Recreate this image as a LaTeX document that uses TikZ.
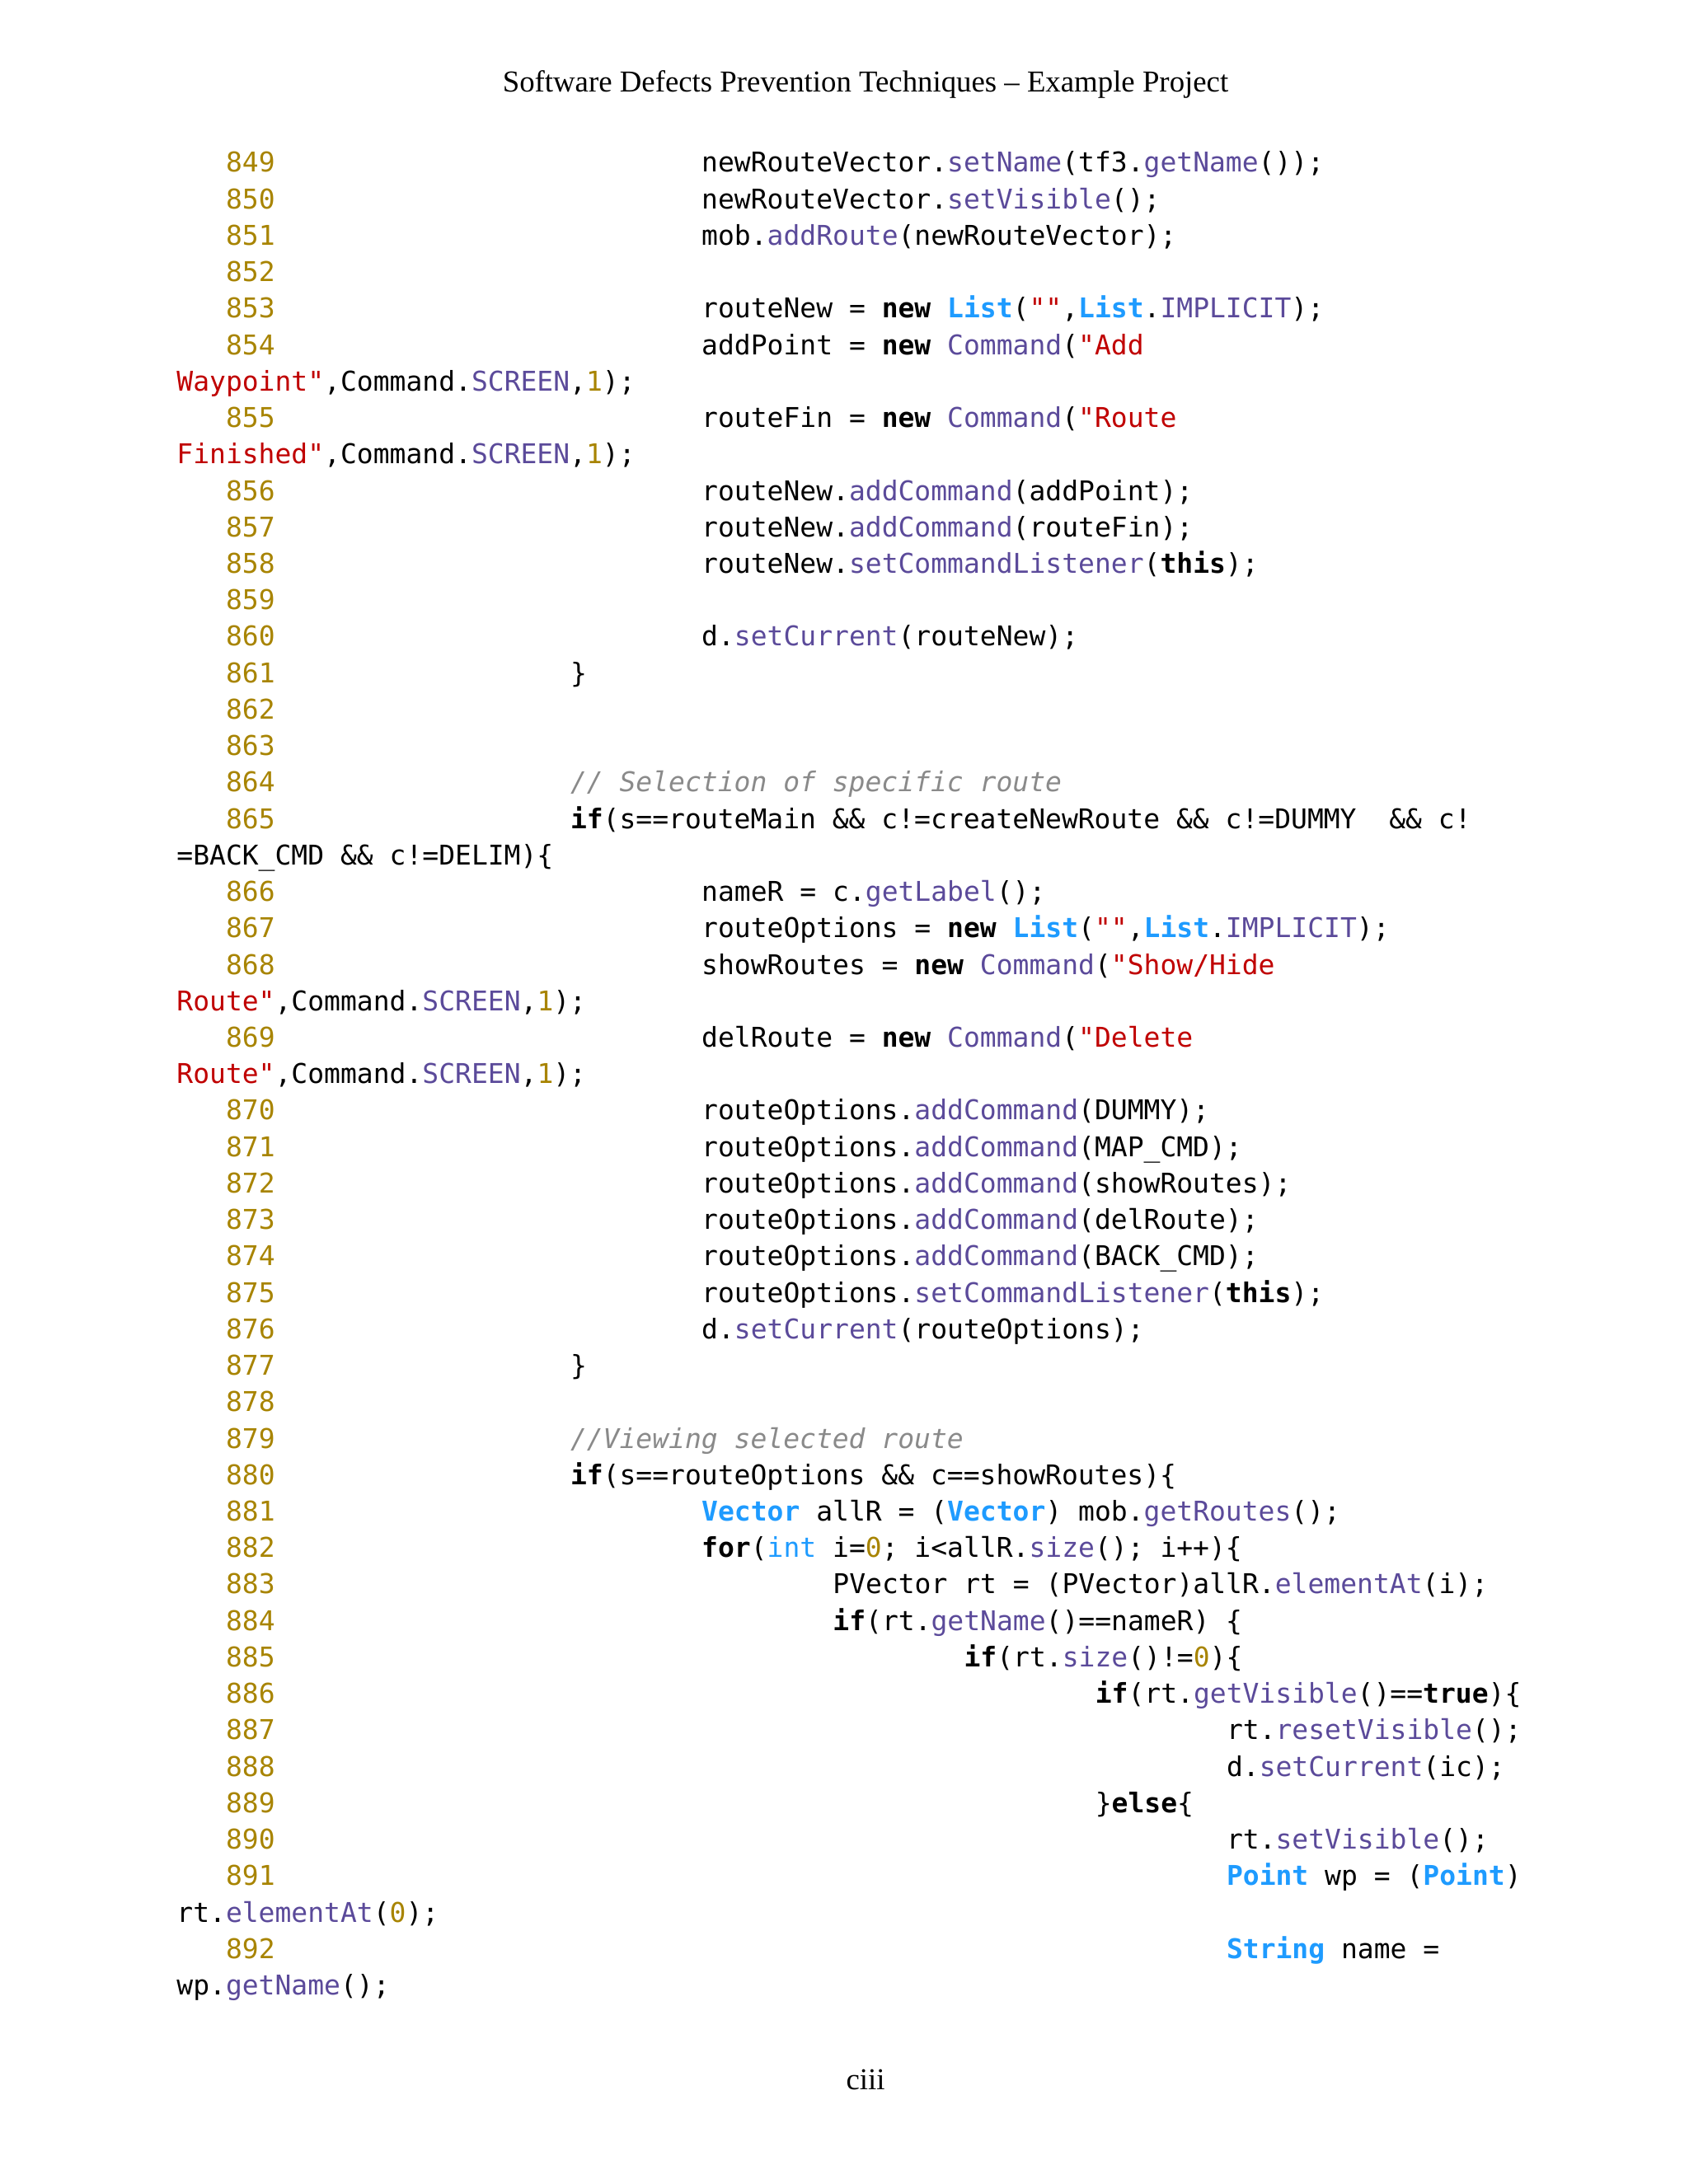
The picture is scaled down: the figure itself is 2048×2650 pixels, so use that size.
\documentclass[tikz,border=0pt]{standalone}
\usepackage{fontspec}
\setmainfont{Liberation Serif}
\setmonofont{DejaVu Sans Mono}
\definecolor{cnum}{HTML}{A88400}
\definecolor{cmt}{HTML}{5B4A9A}
\definecolor{cty}{HTML}{1E9BFF}
\definecolor{cst}{HTML}{C00000}
\definecolor{ccm}{HTML}{8A8A8A}
\newcommand{\kw}[1]{\textbf{#1}}
\newcommand{\ty}[1]{\textcolor{cty}{\textbf{#1}}}
\newcommand{\tyr}[1]{\textcolor{cty}{#1}}
\newcommand{\mt}[1]{\textcolor{cmt}{#1}}
\newcommand{\st}[1]{\textcolor{cst}{#1}}
\newcommand{\nm}[1]{\textcolor{cnum}{#1}}
\newcommand{\cmm}[1]{\textcolor{ccm}{\textit{#1}}}
\tikzset{code/.style={anchor=base west,inner sep=0pt,font=\ttfamily\fontsize{16.5bp}{20bp}\selectfont},
lnum/.style={code,text=cnum}}
\newcommand{\CL}[3]{\node[code] (r#1) at ({214+#2*19.9},{209+#1*44.23}) {#3};}
\newcommand{\NL}[2]{\node[lnum] (n#1) at ({214+3*19.9},{209+#1*44.23}) {#2};}
\begin{document}
\begin{tikzpicture}[x=0.5bp,y=-0.5bp]
\useasboundingbox[fill=white] (0,0) rectangle (2048,2650);
\node[font=\fontsize{18.4bp}{22bp}\selectfont] (hdr) at (1050,102) {Software Defects Prevention Techniques -- Example Project};
\node[font=\fontsize{18.4bp}{22bp}\selectfont] (ftr) at (1050,2523) {ciii};
\NL{0}{849}\CL{0}{32}{newRouteVector.\mt{setName}(tf3.\mt{getName}());}
\NL{1}{850}\CL{1}{32}{newRouteVector.\mt{setVisible}();}
\NL{2}{851}\CL{2}{32}{mob.\mt{addRoute}(newRouteVector);}
\NL{3}{852}
\NL{4}{853}\CL{4}{32}{routeNew = \kw{new} \ty{List}(\st{""},\ty{List}.\mt{IMPLICIT});}
\NL{5}{854}\CL{5}{32}{addPoint = \kw{new} \mt{Command}(\st{"Add}}
\CL{6}{0}{\st{Waypoint"},Command.\mt{SCREEN},\nm{1});}
\NL{7}{855}\CL{7}{32}{routeFin = \kw{new} \mt{Command}(\st{"Route}}
\CL{8}{0}{\st{Finished"},Command.\mt{SCREEN},\nm{1});}
\NL{9}{856}\CL{9}{32}{routeNew.\mt{addCommand}(addPoint);}
\NL{10}{857}\CL{10}{32}{routeNew.\mt{addCommand}(routeFin);}
\NL{11}{858}\CL{11}{32}{routeNew.\mt{setCommandListener}(\kw{this});}
\NL{12}{859}
\NL{13}{860}\CL{13}{32}{d.\mt{setCurrent}(routeNew);}
\NL{14}{861}\CL{14}{24}{\}}
\NL{15}{862}
\NL{16}{863}
\NL{17}{864}\CL{17}{24}{\cmm{// Selection of specific route}}
\NL{18}{865}\CL{18}{24}{\kw{if}(s==routeMain \&\& c!=createNewRoute \&\& c!=DUMMY\ \ \&\& c!}
\CL{19}{0}{=BACK\_CMD \&\& c!=DELIM)\{}
\NL{20}{866}\CL{20}{32}{nameR = c.\mt{getLabel}();}
\NL{21}{867}\CL{21}{32}{routeOptions = \kw{new} \ty{List}(\st{""},\ty{List}.\mt{IMPLICIT});}
\NL{22}{868}\CL{22}{32}{showRoutes = \kw{new} \mt{Command}(\st{"Show/Hide}}
\CL{23}{0}{\st{Route"},Command.\mt{SCREEN},\nm{1});}
\NL{24}{869}\CL{24}{32}{delRoute = \kw{new} \mt{Command}(\st{"Delete}}
\CL{25}{0}{\st{Route"},Command.\mt{SCREEN},\nm{1});}
\NL{26}{870}\CL{26}{32}{routeOptions.\mt{addCommand}(DUMMY);}
\NL{27}{871}\CL{27}{32}{routeOptions.\mt{addCommand}(MAP\_CMD);}
\NL{28}{872}\CL{28}{32}{routeOptions.\mt{addCommand}(showRoutes);}
\NL{29}{873}\CL{29}{32}{routeOptions.\mt{addCommand}(delRoute);}
\NL{30}{874}\CL{30}{32}{routeOptions.\mt{addCommand}(BACK\_CMD);}
\NL{31}{875}\CL{31}{32}{routeOptions.\mt{setCommandListener}(\kw{this});}
\NL{32}{876}\CL{32}{32}{d.\mt{setCurrent}(routeOptions);}
\NL{33}{877}\CL{33}{24}{\}}
\NL{34}{878}
\NL{35}{879}\CL{35}{24}{\cmm{//Viewing selected route}}
\NL{36}{880}\CL{36}{24}{\kw{if}(s==routeOptions \&\& c==showRoutes)\{}
\NL{37}{881}\CL{37}{32}{\ty{Vector} allR = (\ty{Vector}) mob.\mt{getRoutes}();}
\NL{38}{882}\CL{38}{32}{\kw{for}(\tyr{int} i=\nm{0}; i<allR.\mt{size}(); i++)\{}
\NL{39}{883}\CL{39}{40}{PVector rt = (PVector)allR.\mt{elementAt}(i);}
\NL{40}{884}\CL{40}{40}{\kw{if}(rt.\mt{getName}()==nameR) \{}
\NL{41}{885}\CL{41}{48}{\kw{if}(rt.\mt{size}()!=\nm{0})\{}
\NL{42}{886}\CL{42}{56}{\kw{if}(rt.\mt{getVisible}()==\kw{true})\{}
\NL{43}{887}\CL{43}{64}{rt.\mt{resetVisible}();}
\NL{44}{888}\CL{44}{64}{d.\mt{setCurrent}(ic);}
\NL{45}{889}\CL{45}{56}{\}\kw{else}\{}
\NL{46}{890}\CL{46}{64}{rt.\mt{setVisible}();}
\NL{47}{891}\CL{47}{64}{\ty{Point} wp = (\ty{Point})}
\CL{48}{0}{rt.\mt{elementAt}(\nm{0});}
\NL{49}{892}\CL{49}{64}{\ty{String} name =}
\CL{50}{0}{wp.\mt{getName}();}
\end{tikzpicture}
\end{document}
